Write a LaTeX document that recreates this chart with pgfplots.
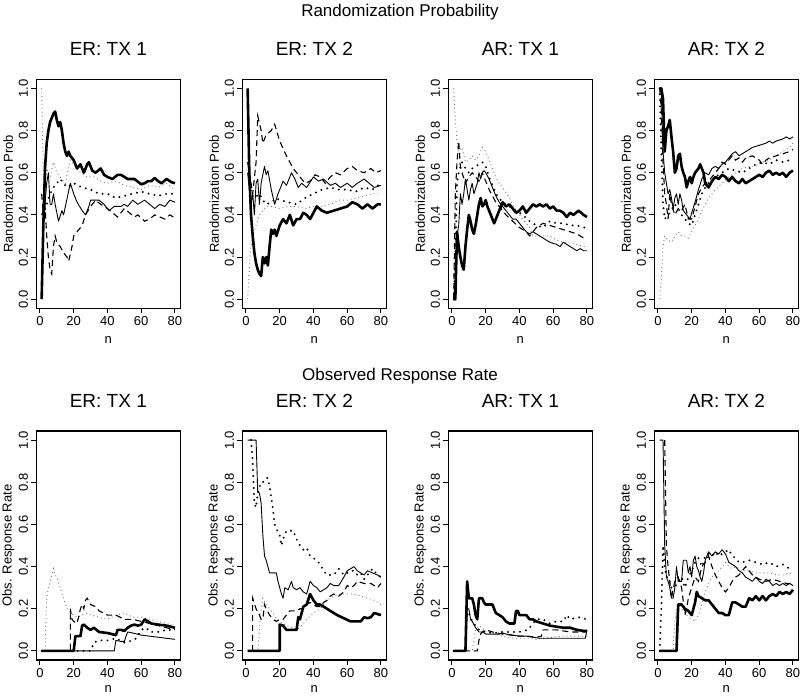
\documentclass[border=0pt]{standalone}
\usepackage{fontspec}
\setmainfont{Liberation Sans}
\usepackage{pgfplots}
\pgfplotsset{compat=1.18}

\pgfplotsset{
  panel/.style={
    scale only axis, width=144pt, height=229pt, anchor=south west,
    xmin=-2.16, xmax=83.16, ymin=-0.043, ymax=1.043,
    xtick={0,20,40,60,80}, ytick={0,0.2,0.4,0.6,0.8,1},
    xtick pos=left, ytick pos=left, tick align=outside,
    major tick length=5pt,
    every tick/.style={black, line width=1pt},
    axis line style={line width=1.5pt},
    font=\fontsize{13}{15}\selectfont,
    /pgf/number format/assume math mode=true,
    yticklabel style={/pgf/number format/fixed, /pgf/number format/fixed zerofill,
      /pgf/number format/precision=1, rotate=90, anchor=south, inner sep=0pt},
    xticklabel style={inner sep=0pt},
    yticklabel shift=3pt, xticklabel shift=3pt,
    xlabel={n},
    xlabel style={at={(axis description cs:0.5,-0.14)}, anchor=center},
    ylabel style={at={(axis description cs:-0.195,0.5)}, anchor=center},
    title style={at={(axis description cs:0.5,1.105)}, anchor=center, font=\fontsize{19}{22}\selectfont},
  },
  lowrow/.style={xlabel style={at={(axis description cs:0.5,-0.128)}}},
  s1/.style={black, line width=2.6pt, line join=round},
  s2/.style={black, line width=0.9pt, line join=round},
  s3/.style={black, line width=1.1pt, dash pattern=on 6pt off 4pt},
  s4/.style={black, line width=2.2pt, dash pattern=on 0pt off 6pt, line cap=round},
  s5/.style={black!55, line width=0.9pt, dash pattern=on 0.9pt off 3pt},
}

\begin{document}
\begin{tikzpicture}
\path[use as bounding box] (0pt,0pt) rectangle (800pt,696pt);
\node[font=\fontsize{17}{20}\selectfont] at (400pt,684pt) {Randomization Probability};
\node[font=\fontsize{17}{20}\selectfont] at (400pt,320pt) {Observed Response Rate};

% ---------------- top row ----------------
\begin{axis}[panel, at={(36.3pt,387.7pt)}, title={ER: TX 1}, ylabel={Randomization Prob}]
\addplot[s5] coordinates {(1,1.0) (2,0.6) (3,0.5) (4,0.62) (6,0.58) (8,0.65) (10,0.6) (12,0.58) (15,0.55) (18,0.66) (20,0.64) (24,0.6) (28,0.58) (32,0.58) (36,0.56) (40,0.55) (45,0.56) (50,0.54) (55,0.53) (60,0.52) (65,0.54) (70,0.53) (75,0.55) (80,0.52)};
\addplot[s4] coordinates {(2,0.4) (4,0.45) (6,0.5) (8,0.53) (10,0.55) (12,0.57) (14,0.55) (16,0.53) (20,0.55) (25,0.53) (30,0.52) (35,0.5) (40,0.5) (45,0.48) (50,0.49) (55,0.5) (60,0.51) (65,0.5) (70,0.49) (75,0.5) (80,0.5)};
\addplot[s3] coordinates {(1,0.5) (2,0.4) (3,0.45) (4,0.3) (5,0.2) (6,0.14) (7,0.12) (8,0.25) (9,0.3) (10,0.27) (12,0.25) (14,0.22) (16,0.2) (17,0.18) (19,0.25) (20,0.3) (23,0.33) (25,0.35) (27,0.4) (30,0.44) (33,0.47) (36,0.45) (40,0.43) (43,0.41) (46,0.39) (48,0.41) (50,0.43) (53,0.41) (56,0.39) (58,0.4) (62,0.37) (65,0.38) (68,0.4) (71,0.39) (74,0.38) (77,0.4) (80,0.385)};
\addplot[s2] coordinates {(1,0.4) (3,0.45) (4,0.55) (5,0.6) (6,0.45) (7,0.45) (8,0.5) (9,0.45) (11,0.37) (13,0.42) (14,0.4) (18,0.55) (20,0.5) (22,0.46) (25,0.42) (27,0.4) (29,0.44) (30,0.47) (35,0.47) (38,0.45) (41,0.42) (44,0.44) (48,0.44) (50,0.45) (52,0.44) (55,0.47) (58,0.45) (62,0.47) (65,0.45) (68,0.43) (71,0.45) (74,0.44) (77,0.47) (80,0.46)};
\addplot[s1] coordinates {(1,0) (2,0.35) (3,0.62) (4,0.74) (5,0.8) (6,0.84) (7,0.86) (8,0.88) (9,0.89) (10,0.85) (11,0.82) (12,0.84) (13,0.8) (14,0.74) (15,0.7) (16,0.68) (17,0.70) (18,0.68) (19,0.67) (20,0.66) (22,0.62) (24,0.64) (26,0.6) (28,0.64) (29,0.65) (31,0.61) (33,0.6) (36,0.62) (38,0.59) (40,0.58) (43,0.57) (46,0.59) (48,0.59) (52,0.57) (56,0.57) (60,0.545) (62,0.55) (64,0.56) (66,0.56) (68,0.575) (70,0.56) (72,0.55) (75,0.57) (78,0.555) (80,0.55)};
\end{axis}

\begin{axis}[panel, at={(242.3pt,387.7pt)}, title={ER: TX 2}, ylabel={Randomization Prob}]
\addplot[s5] coordinates {(1,0.0) (2,0.15) (3,0.25) (4,0.3) (6,0.35) (8,0.4) (10,0.42) (12,0.44) (15,0.44) (20,0.43) (25,0.44) (30,0.44) (35,0.43) (40,0.44) (45,0.44) (50,0.45) (55,0.47) (60,0.47) (65,0.48) (70,0.49) (75,0.5) (80,0.5)};
\addplot[s4] coordinates {(2,0.6) (3,0.5) (5,0.48) (8,0.5) (10,0.47) (12,0.45) (15,0.46) (18,0.48) (20,0.47) (25,0.46) (30,0.45) (35,0.48) (40,0.5) (45,0.52) (50,0.53) (55,0.52) (60,0.52) (65,0.51) (70,0.53) (75,0.52) (80,0.55)};
\addplot[s3] coordinates {(1,0.65) (2,0.6) (4,0.5) (6,0.65) (7,0.87) (9,0.8) (10,0.74) (12,0.78) (15,0.8) (17,0.83) (20,0.75) (24,0.68) (28,0.62) (32,0.58) (35,0.55) (38,0.56) (41,0.59) (44,0.58) (47,0.55) (50,0.58) (53,0.6) (56,0.59) (60,0.62) (63,0.63) (66,0.61) (70,0.6) (74,0.62) (77,0.6) (80,0.61)};
\addplot[s2] coordinates {(1,0.6) (2,0.52) (3,0.45) (4,0.5) (5,0.4) (6,0.55) (7,0.57) (8,0.45) (9,0.55) (11,0.63) (12,0.59) (13,0.61) (15,0.52) (17,0.45) (19,0.5) (22,0.56) (24,0.54) (27,0.6) (29,0.57) (31,0.53) (33,0.55) (36,0.53) (40,0.58) (43,0.56) (46,0.57) (50,0.54) (53,0.55) (56,0.53) (60,0.55) (63,0.53) (66,0.55) (70,0.57) (73,0.55) (76,0.53) (80,0.54)};
\addplot[s1] coordinates {(1,1.0) (2,0.6) (3,0.4) (4,0.3) (5,0.22) (6,0.17) (7,0.14) (8,0.12) (9,0.11) (10,0.2) (11,0.17) (12,0.2) (13,0.16) (14,0.25) (15,0.33) (16,0.31) (17,0.33) (18,0.30) (20,0.35) (22,0.38) (24,0.36) (26,0.4) (28,0.35) (30,0.38) (32,0.38) (34,0.41) (36,0.40) (38,0.38) (40,0.41) (42,0.44) (45,0.42) (48,0.41) (52,0.42) (56,0.43) (60,0.44) (63,0.46) (66,0.45) (69,0.43) (72,0.45) (75,0.43) (78,0.45) (80,0.45)};
\end{axis}

\begin{axis}[panel, at={(448.3pt,387.7pt)}, title={AR: TX 1}, ylabel={Randomization Prob}]
\addplot[s5] coordinates {(1,1.0) (2,0.85) (3,0.75) (4,0.7) (6,0.72) (8,0.65) (10,0.66) (12,0.68) (14,0.66) (16,0.68) (18,0.72) (20,0.7) (22,0.66) (24,0.62) (26,0.58) (28,0.55) (30,0.53) (34,0.48) (38,0.42) (42,0.38) (46,0.34) (48,0.3) (50,0.3) (54,0.3) (58,0.3) (62,0.28) (66,0.27) (70,0.27) (74,0.26) (78,0.25) (80,0.25)};
\addplot[s4] coordinates {(1,0) (2,0.2) (3,0.55) (4,0.6) (6,0.65) (8,0.62) (10,0.6) (12,0.62) (14,0.63) (16,0.64) (18,0.65) (20,0.63) (22,0.58) (24,0.54) (26,0.5) (28,0.48) (30,0.46) (34,0.44) (38,0.42) (42,0.4) (46,0.37) (50,0.35) (54,0.34) (58,0.37) (62,0.36) (66,0.36) (70,0.35) (74,0.35) (78,0.34) (80,0.34)};
\addplot[s3] coordinates {(1,0) (2,0.5) (3,0.65) (4,0.75) (5,0.63) (6,0.6) (8,0.55) (10,0.58) (12,0.6) (14,0.58) (16,0.56) (18,0.6) (20,0.56) (22,0.52) (24,0.49) (26,0.46) (28,0.44) (30,0.42) (32,0.4) (36,0.37) (40,0.34) (44,0.32) (46,0.30) (48,0.32) (50,0.34) (54,0.36) (58,0.35) (62,0.34) (66,0.33) (70,0.32) (74,0.31) (78,0.29) (80,0.29)};
\addplot[s2] coordinates {(1,0) (2,0.1) (3,0.3) (4,0.35) (5,0.5) (6,0.45) (7,0.5) (8,0.57) (9,0.52) (10,0.47) (11,0.52) (12,0.55) (13,0.5) (15,0.55) (16,0.6) (17,0.57) (18,0.6) (19,0.61) (20,0.6) (22,0.57) (24,0.53) (26,0.49) (28,0.46) (30,0.44) (32,0.42) (34,0.4) (36,0.38) (38,0.38) (40,0.36) (42,0.34) (44,0.32) (46,0.31) (48,0.32) (50,0.31) (54,0.29) (58,0.27) (62,0.26) (64,0.25) (66,0.27) (70,0.25) (74,0.23) (76,0.24) (78,0.23) (80,0.23)};
\addplot[s1] coordinates {(1,0) (2,0) (3,0.32) (4,0.25) (5,0.2) (6,0.16) (7,0.14) (8,0.25) (9,0.33) (10,0.4) (11,0.37) (12,0.33) (13,0.31) (14,0.35) (15,0.4) (16,0.45) (17,0.48) (18,0.44) (19,0.45) (20,0.47) (21,0.44) (22,0.42) (24,0.38) (25,0.36) (27,0.4) (29,0.44) (30,0.46) (32,0.44) (34,0.45) (36,0.43) (38,0.41) (40,0.42) (42,0.44) (44,0.41) (46,0.43) (48,0.45) (50,0.44) (52,0.45) (54,0.44) (56,0.45) (58,0.43) (60,0.44) (62,0.42) (64,0.42) (66,0.41) (68,0.39) (70,0.41) (72,0.40) (75,0.42) (78,0.40) (80,0.39)};
\end{axis}

\begin{axis}[panel, at={(654.3pt,387.7pt)}, title={AR: TX 2}, ylabel={Randomization Prob}]
\addplot[s5] coordinates {(1,0) (2,0.1) (3,0.25) (4,0.3) (6,0.28) (8,0.27) (10,0.3) (12,0.32) (14,0.3) (16,0.3) (18,0.29) (20,0.32) (22,0.35) (24,0.38) (26,0.42) (28,0.45) (30,0.48) (34,0.52) (38,0.55) (42,0.58) (46,0.6) (50,0.62) (54,0.63) (58,0.63) (62,0.65) (66,0.66) (70,0.68) (74,0.7) (78,0.72) (80,0.74)};
\addplot[s4] coordinates {(1,1.0) (2,0.7) (3,0.45) (4,0.38) (6,0.4) (8,0.42) (10,0.45) (12,0.43) (14,0.4) (16,0.38) (18,0.36) (20,0.35) (22,0.4) (24,0.45) (26,0.5) (28,0.53) (30,0.55) (34,0.58) (38,0.6) (42,0.62) (46,0.61) (50,0.6) (54,0.62) (58,0.64) (62,0.65) (66,0.64) (70,0.66) (74,0.65) (78,0.66) (80,0.66)};
\addplot[s3] coordinates {(1,1.0) (2,0.9) (3,0.65) (4,0.5) (5,0.45) (6,0.38) (7,0.5) (8,0.45) (10,0.4) (12,0.43) (14,0.42) (16,0.45) (18,0.38) (20,0.38) (22,0.44) (24,0.5) (26,0.53) (28,0.55) (30,0.56) (32,0.58) (34,0.6) (36,0.62) (38,0.65) (40,0.64) (42,0.66) (44,0.68) (46,0.66) (48,0.67) (50,0.65) (52,0.67) (56,0.68) (60,0.66) (62,0.64) (64,0.66) (66,0.67) (70,0.68) (74,0.69) (78,0.7) (80,0.71)};
\addplot[s2] coordinates {(1,1.0) (2,0.98) (3,0.7) (4,0.6) (5,0.55) (6,0.5) (7,0.52) (8,0.48) (9,0.43) (10,0.48) (11,0.5) (12,0.45) (13,0.5) (14,0.47) (15,0.42) (17,0.4) (19,0.38) (20,0.41) (22,0.46) (24,0.52) (26,0.57) (28,0.6) (30,0.59) (32,0.62) (34,0.63) (36,0.62) (38,0.64) (40,0.65) (42,0.67) (44,0.69) (46,0.7) (48,0.68) (50,0.69) (52,0.7) (56,0.72) (60,0.73) (64,0.74) (66,0.75) (68,0.74) (70,0.75) (74,0.76) (76,0.77) (78,0.76) (80,0.77)};
\addplot[s1] coordinates {(1,1.0) (2,1.0) (3,0.95) (4,0.7) (5,0.8) (6,0.82) (7,0.85) (8,0.77) (9,0.7) (10,0.6) (11,0.62) (12,0.68) (13,0.69) (14,0.63) (15,0.6) (16,0.58) (17,0.53) (18,0.56) (19,0.58) (20,0.55) (21,0.58) (22,0.6) (24,0.62) (25,0.64) (27,0.6) (28,0.55) (30,0.53) (32,0.56) (34,0.58) (36,0.57) (38,0.59) (40,0.58) (42,0.56) (44,0.58) (46,0.56) (48,0.55) (50,0.57) (52,0.55) (54,0.56) (56,0.57) (58,0.58) (60,0.59) (62,0.58) (64,0.6) (66,0.61) (68,0.59) (70,0.6) (72,0.59) (74,0.6) (76,0.58) (78,0.6) (80,0.61)};
\end{axis}

% ---------------- bottom row ----------------
\begin{axis}[panel, lowrow, at={(36.3pt,36pt)}, title={ER: TX 1}, ylabel={Obs. Response Rate}]
\addplot[s5] coordinates {(1,0) (3,0) (4,0.25) (5,0.3) (6,0.33) (7,0.36) (8,0.39) (9,0.36) (10,0.35) (12,0.3) (14,0.25) (16,0.2) (18,0.18) (20,0.17) (22,0.16) (25,0.17) (28,0.18) (30,0.17) (35,0.16) (40,0.15) (45,0.17) (50,0.18) (55,0.16) (60,0.16) (65,0.15) (70,0.14) (75,0.13) (80,0.12)};
\addplot[s4] coordinates {(1,0) (30,0) (32,0.04) (35,0.05) (40,0.05) (45,0.06) (50,0.04) (55,0.05) (57,0.06) (60,0.1) (63,0.11) (65,0.09) (70,0.09) (75,0.1) (80,0.1)};
\addplot[s3] coordinates {(1,0) (18,0) (18,0.2) (19,0.15) (20,0.14) (22,0.13) (24,0.2) (25,0.22) (26,0.2) (27,0.24) (28,0.25) (30,0.22) (33,0.21) (35,0.19) (40,0.17) (45,0.17) (50,0.15) (55,0.15) (60,0.14) (65,0.13) (70,0.12) (75,0.11) (80,0.1)};
\addplot[s2] coordinates {(1,0) (44,0) (45,0.05) (48,0.045) (50,0.045) (51,0.07) (52,0.09) (55,0.085) (60,0.075) (65,0.07) (70,0.065) (75,0.06) (80,0.055)};
\addplot[s1] coordinates {(1,0) (20,0) (21,0.07) (24,0.07) (25,0.12) (26,0.125) (28,0.11) (30,0.1) (32,0.11) (35,0.09) (40,0.085) (45,0.075) (46,0.1) (48,0.1) (50,0.095) (52,0.11) (54,0.12) (56,0.125) (58,0.12) (60,0.125) (62,0.15) (64,0.14) (66,0.13) (70,0.125) (75,0.12) (80,0.11)};
\end{axis}

\begin{axis}[panel, lowrow, at={(242.3pt,36pt)}, title={ER: TX 2}, ylabel={Obs. Response Rate}]
\addplot[s5] coordinates {(1,0) (7,0) (8,0.1) (9,0.2) (10,0.25) (12,0.22) (14,0.2) (16,0.18) (18,0.15) (20,0.14) (24,0.12) (28,0.11) (30,0.1) (33,0.12) (36,0.15) (40,0.18) (44,0.2) (48,0.24) (52,0.26) (56,0.27) (60,0.27) (64,0.27) (68,0.26) (72,0.25) (76,0.24) (80,0.22)};
\addplot[s4] coordinates {(3,1.0) (4,0.9) (5,0.7) (6,0.68) (7,0.75) (9,0.8) (10,0.8) (12,0.82) (13,0.82) (14,0.78) (15,0.73) (16,0.67) (17,0.6) (18,0.58) (20,0.55) (21,0.5) (22,0.53) (24,0.57) (26,0.57) (28,0.57) (30,0.53) (32,0.5) (34,0.48) (36,0.49) (38,0.45) (40,0.44) (42,0.43) (44,0.41) (46,0.38) (48,0.36) (50,0.36) (52,0.36) (55,0.39) (58,0.36) (60,0.37) (62,0.38) (64,0.38) (66,0.36) (68,0.37) (70,0.34) (72,0.36) (75,0.39) (78,0.36) (80,0.35)};
\addplot[s3] coordinates {(4,0) (4,0.25) (6,0.2) (8,0.17) (9,0.15) (10,0.15) (11,0.22) (12,0.2) (14,0.17) (16,0.15) (18,0.14) (20,0.15) (22,0.15) (24,0.17) (26,0.19) (28,0.19) (30,0.19) (32,0.2) (34,0.2) (36,0.22) (38,0.23) (40,0.22) (42,0.21) (44,0.21) (46,0.23) (48,0.24) (50,0.26) (52,0.27) (55,0.26) (58,0.28) (60,0.31) (62,0.3) (64,0.31) (66,0.33) (70,0.32) (74,0.32) (76,0.31) (78,0.3) (80,0.32)};
\addplot[s2] coordinates {(1,1.0) (6,1.0) (7,0.75) (8,0.75) (9,0.7) (10,0.55) (11,0.45) (12,0.43) (13,0.4) (14,0.37) (16,0.37) (18,0.37) (19,0.33) (20,0.3) (21,0.27) (22,0.25) (23,0.3) (25,0.29) (27,0.33) (28,0.3) (30,0.29) (32,0.3) (34,0.28) (36,0.27) (38,0.33) (40,0.31) (42,0.3) (44,0.28) (46,0.29) (48,0.3) (50,0.32) (52,0.31) (55,0.31) (58,0.35) (60,0.38) (62,0.39) (64,0.4) (66,0.38) (68,0.37) (70,0.36) (72,0.38) (75,0.37) (78,0.36) (80,0.35)};
\addplot[s1] coordinates {(1,0) (20,0) (20,0.125) (22,0.12) (24,0.1) (26,0.1) (28,0.1) (30,0.1) (31,0.16) (32,0.15) (33,0.18) (34,0.21) (36,0.22) (38,0.27) (40,0.24) (42,0.22) (44,0.22) (46,0.21) (48,0.2) (50,0.19) (54,0.17) (58,0.155) (62,0.14) (66,0.14) (68,0.14) (70,0.16) (72,0.155) (74,0.16) (76,0.18) (78,0.175) (80,0.17)};
\end{axis}

\begin{axis}[panel, lowrow, at={(448.3pt,36pt)}, title={AR: TX 1}, ylabel={Obs. Response Rate}]
\addplot[s5] coordinates {(1,0) (12,0) (13,0.05) (14,0.1) (16,0.12) (18,0.11) (20,0.09) (25,0.08) (30,0.07) (35,0.06) (40,0.06) (45,0.06) (50,0.055) (55,0.06) (60,0.065) (65,0.07) (70,0.07) (75,0.07) (80,0.07)};
\addplot[s4] coordinates {(1,0) (8,0) (9,0.2) (10,0.18) (12,0.14) (14,0.12) (16,0.1) (20,0.09) (25,0.085) (30,0.09) (35,0.09) (40,0.09) (45,0.1) (50,0.15) (54,0.15) (58,0.13) (62,0.14) (66,0.14) (68,0.17) (70,0.15) (75,0.16) (80,0.15)};
\addplot[s3] coordinates {(1,0) (15,0) (16,0.05) (17,0.08) (18,0.09) (20,0.1) (24,0.09) (30,0.08) (35,0.075) (40,0.07) (45,0.07) (50,0.065) (53,0.07) (54,0.1) (58,0.1) (62,0.1) (66,0.095) (70,0.09) (74,0.09) (78,0.09) (80,0.09)};
\addplot[s2] coordinates {(1,0) (8,0) (9,0.2) (10,0.2) (11,0.15) (12,0.14) (14,0.11) (16,0.09) (18,0.09) (20,0.08) (24,0.08) (28,0.08) (30,0.085) (32,0.08) (36,0.075) (40,0.07) (44,0.07) (48,0.065) (52,0.06) (56,0.06) (60,0.06) (66,0.06) (70,0.06) (76,0.06) (79,0.06) (80,0.1)};
\addplot[s1] coordinates {(1,0) (8,0) (9,0.33) (10,0.25) (12,0.25) (13,0.22) (14,0.17) (15,0.15) (16,0.25) (18,0.25) (19,0.23) (20,0.22) (24,0.22) (26,0.18) (28,0.17) (30,0.16) (32,0.14) (34,0.13) (37,0.13) (38,0.19) (39,0.19) (40,0.17) (44,0.17) (46,0.15) (48,0.15) (50,0.14) (54,0.13) (58,0.12) (62,0.115) (66,0.11) (70,0.11) (74,0.1) (78,0.095) (80,0.095)};
\end{axis}

\begin{axis}[panel, lowrow, at={(654.3pt,36pt)}, title={AR: TX 2}, ylabel={Obs. Response Rate}]
\addplot[s5] coordinates {(1,0) (9,0) (10,0.15) (12,0.22) (14,0.2) (16,0.18) (18,0.16) (20,0.15) (22,0.14) (24,0.17) (26,0.22) (28,0.28) (30,0.32) (32,0.35) (34,0.37) (36,0.38) (38,0.4) (40,0.42) (42,0.4) (44,0.39) (46,0.4) (50,0.38) (54,0.38) (58,0.37) (62,0.37) (66,0.37) (70,0.36) (74,0.36) (78,0.37) (80,0.36)};
\addplot[s4] coordinates {(1,0) (2,0.2) (3,0.5) (4,0.4) (5,0.35) (6,0.35) (8,0.3) (10,0.3) (12,0.33) (14,0.35) (16,0.3) (18,0.35) (20,0.38) (22,0.42) (24,0.44) (26,0.4) (28,0.45) (30,0.46) (32,0.45) (34,0.47) (36,0.45) (38,0.46) (40,0.47) (42,0.48) (44,0.45) (46,0.44) (48,0.42) (50,0.42) (54,0.43) (58,0.42) (62,0.41) (66,0.42) (70,0.4) (74,0.41) (78,0.39) (80,0.4)};
\addplot[s3] coordinates {(4,1.0) (5,0.5) (6,0.4) (7,0.33) (8,0.25) (10,0.33) (12,0.35) (14,0.3) (16,0.17) (17,0.2) (18,0.25) (20,0.3) (22,0.35) (24,0.33) (26,0.4) (28,0.42) (30,0.45) (32,0.4) (34,0.36) (36,0.33) (38,0.3) (40,0.28) (42,0.3) (44,0.33) (46,0.35) (48,0.36) (50,0.38) (52,0.4) (54,0.38) (56,0.36) (60,0.34) (64,0.33) (68,0.34) (72,0.33) (76,0.32) (80,0.32)};
\addplot[s2] coordinates {(1,1.0) (3,1.0) (4,0.5) (5,0.35) (6,0.33) (7,0.3) (8,0.25) (9,0.25) (10,0.3) (11,0.4) (12,0.33) (14,0.33) (15,0.43) (17,0.43) (18,0.37) (19,0.4) (20,0.35) (21,0.43) (22,0.45) (23,0.4) (24,0.38) (25,0.35) (26,0.33) (27,0.37) (28,0.43) (30,0.47) (32,0.45) (34,0.47) (36,0.46) (38,0.48) (40,0.46) (42,0.42) (44,0.41) (46,0.4) (48,0.38) (50,0.37) (52,0.35) (54,0.34) (56,0.33) (58,0.35) (60,0.33) (62,0.32) (64,0.34) (66,0.33) (68,0.31) (70,0.32) (72,0.31) (74,0.32) (76,0.31) (78,0.32) (80,0.31)};
\addplot[s1] coordinates {(1,0) (11,0) (12,0.22) (14,0.22) (16,0.2) (18,0.19) (20,0.17) (21,0.2) (22,0.23) (23,0.28) (24,0.26) (26,0.25) (28,0.24) (30,0.24) (32,0.22) (34,0.2) (36,0.18) (38,0.18) (40,0.17) (42,0.17) (44,0.23) (46,0.23) (48,0.22) (50,0.21) (52,0.21) (54,0.25) (56,0.24) (58,0.26) (60,0.24) (62,0.26) (64,0.24) (66,0.26) (68,0.27) (70,0.26) (72,0.28) (74,0.27) (76,0.28) (78,0.27) (80,0.29)};
\end{axis}
\end{tikzpicture}
\end{document}
